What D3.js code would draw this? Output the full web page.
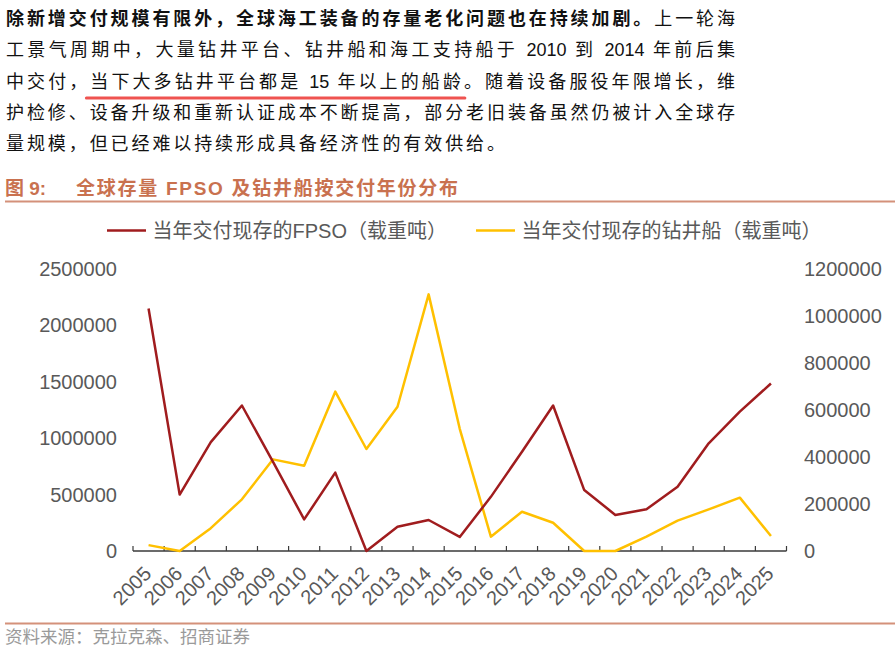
<!DOCTYPE html>
<html>
<head>
<meta charset="utf-8">
<script src="https://cdn.jsdelivr.net/npm/d3@7"></script>
<style>
    body { margin: 0; background: #fff; }
    svg { display: block; }
</style>
</head>
<body>
<div id="chart"></div>
<script>
// FPSO and drillship fleet by delivery year, dual axis, with the report
// paragraph and figure caption above it.

const YEARS = ['2005', '2006', '2007', '2008', '2009', '2010', '2011', '2012', '2013', '2014',
    '2015', '2016', '2017', '2018', '2019', '2020', '2021', '2022', '2023', '2024', '2025'];
const FPSO_DWT = [2150000, 500000, 965000, 1290000, 790000, 280000, 695000, 0, 215000, 275000,
    125000, 480000, 880000, 1290000, 540000, 320000, 370000, 570000, 955000, 1235000, 1485000];
const DRILLSHIP_DWT = [25000, 0, 97000, 220000, 390000, 363000, 678000, 434000, 614000, 1092000,
    520000, 61000, 167000, 120000, 0, 0, 61000, 129000, 177000, 227000, 64000];
const LEFT_TICKS = [0, 500000, 1000000, 1500000, 2000000, 2500000];
const RIGHT_TICKS = [0, 200000, 400000, 600000, 800000, 1000000, 1200000];
const SERIES_NAMES = ['当年交付现存的FPSO（载重吨）', '当年交付现存的钻井船（载重吨）'];

const PARAGRAPH = [
    [{ t: '除新增交付规模有限外，全球海工装备的存量老化问题也在持续加剧。', bold: true }, { t: '上一轮海' }],
    [{ t: '工景气周期中，大量钻井平台、钻井船和海工支持船于 2010 到 2014 年前后集' }],
    [{ t: '中交付，' }, { t: '当下大多钻井平台都是 15 年以上的船龄', mark: true }, { t: '。随着设备服役年限增长，维' }],
    [{ t: '护检修、设备升级和重新认证成本不断提高，部分老旧装备虽然仍被计入全球存' }],
    [{ t: '量规模，但已经难以持续形成具备经济性的有效供给。' }],
];
const CAPTION_NO = '图 9:';
const CAPTION = '全球存量 FPSO 及钻井船按交付年份分布';
const SOURCE = '资料来源：克拉克森、招商证券';

const W = 895, H = 652;
const FONT = '"Liberation Sans", Arial, "Noto Sans CJK SC", sans-serif';
const RED = '#a01c1e', GOLD = '#ffc000', ACCENT = '#c9714f', RULE = '#d4917a', GREY = '#595959';

const svg = d3.select('#chart').append('svg').attr('width', W).attr('height', H);

// ---- paragraph, justified to the text column like the source document.
// CJK characters and spaces take the extra spacing; digits stay tight.
const lineGap = 31.3, firstBase = 25, textLeft = 6, textRight = 735;
const isTight = /^[\x21-\x7F]+$/;
let lastSpacing = 0;
PARAGRAPH.forEach((parts, i) => {
    const baseY = firstBase + i * lineGap;
    const text = svg.append('text')
        .attr('x', textLeft).attr('y', baseY)
        .attr('font-family', FONT).attr('font-size', 18).attr('fill', '#111');
    const runs = [];
    parts.forEach((p) => {
        p.t.match(/[\x21-\x7F]+|[^\x21-\x7F]+/g).forEach((r) => {
            runs.push({ t: r, loose: !isTight.test(r), bold: p.bold, mark: p.mark });
        });
    });
    const spans = runs.map((r) => text.append('tspan').text(r.t).attr('font-weight', r.bold ? 700 : 400));
    const natural = text.node().getComputedTextLength();
    let looseCount = runs.filter((r) => r.loose).reduce((s, r) => s + r.t.length, 0);
    if (runs[runs.length - 1].loose) looseCount -= 1;
    const ls = i < PARAGRAPH.length - 1 ? (textRight - textLeft - natural) / looseCount : lastSpacing;
    lastSpacing = ls;
    spans.forEach((s, k) => { if (runs[k].loose) s.style('letter-spacing', `${ls}px`); });

    // red underline under the highlighted phrase
    let offset = 0, start = -1, end = -1;
    runs.forEach((r) => {
        if (r.mark) {
            if (start < 0) start = offset;
            end = offset + r.t.length - 1;
        }
        offset += r.t.length;
    });
    if (start >= 0) {
        const node = text.node();
        const x0 = node.getStartPositionOfChar(start).x - 4;
        const x1 = node.getStartPositionOfChar(end).x + 22;
        svg.append('line')
            .attr('x1', x0).attr('x2', x1)
            .attr('y1', baseY + 10.5).attr('y2', baseY + 10.5)
            .attr('stroke', '#ef5350').attr('stroke-width', 3).attr('stroke-linecap', 'round');
    }
});

// ---- caption
svg.append('text').attr('x', 5).attr('y', 195)
    .attr('font-family', FONT).attr('font-size', 19).attr('font-weight', 700)
    .attr('fill', ACCENT).text(CAPTION_NO);
svg.append('text').attr('x', 76).attr('y', 195)
    .attr('font-family', FONT).attr('font-size', 19).attr('font-weight', 700)
    .attr('fill', ACCENT).attr('textLength', 382).attr('lengthAdjust', 'spacing')
    .text(CAPTION);
svg.append('line').attr('x1', 5).attr('x2', W).attr('y1', 201.5).attr('y2', 201.5)
    .attr('stroke', RULE).attr('stroke-width', 2);

// ---- chart
const x = d3.scaleBand().domain(YEARS).range([133, 786.5]);
const yL = d3.scaleLinear().domain([0, 2500000]).range([551, 269]);
const yR = d3.scaleLinear().domain([0, 1200000]).range([551, 269]);
const cx = (d) => x(d) + x.bandwidth() / 2;

const styleAxis = (g) => {
    g.select('.domain').remove();
    g.selectAll('.tick line').remove();
    g.selectAll('text').attr('font-family', FONT).attr('font-size', 20).attr('fill', GREY);
};

svg.append('g').attr('transform', `translate(${x.range()[0]},0)`)
    .call(d3.axisLeft(yL).tickValues(LEFT_TICKS).tickFormat(d3.format('d')).tickSize(0).tickPadding(16))
    .call(styleAxis);
svg.append('g').attr('transform', `translate(${x.range()[1]},0)`)
    .call(d3.axisRight(yR).tickValues(RIGHT_TICKS).tickFormat(d3.format('d')).tickSize(0).tickPadding(17.5))
    .call(styleAxis);

// category axis: baseline with short ticks pointing up at band edges
const xAxis = svg.append('g');
const edges = YEARS.map((d) => x(d)).concat([x.range()[1]]);
xAxis.append('line')
    .attr('x1', x.range()[0]).attr('x2', x.range()[1])
    .attr('y1', yL(0)).attr('y2', yL(0))
    .attr('stroke', '#3a3a3a').attr('stroke-width', 1.5);
xAxis.selectAll('line.tk').data(edges).join('line').attr('class', 'tk')
    .attr('x1', (d) => d).attr('x2', (d) => d)
    .attr('y1', yL(0)).attr('y2', yL(0) - 5)
    .attr('stroke', '#3a3a3a').attr('stroke-width', 1.2);
xAxis.selectAll('text').data(YEARS).join('text')
    .attr('transform', (d) => `translate(${cx(d) + 4},${yL(0) + 24}) rotate(-45)`)
    .attr('text-anchor', 'end')
    .attr('font-family', FONT).attr('font-size', 20).attr('fill', GREY)
    .text((d) => d);

const lineL = d3.line().x((d, i) => cx(YEARS[i])).y((d) => yL(d));
const lineR = d3.line().x((d, i) => cx(YEARS[i])).y((d) => yR(d));

svg.append('path').datum(DRILLSHIP_DWT)
    .attr('fill', 'none').attr('stroke', GOLD).attr('stroke-width', 2.5)
    .attr('stroke-linejoin', 'round').attr('d', lineR);
svg.append('path').datum(FPSO_DWT)
    .attr('fill', 'none').attr('stroke', RED).attr('stroke-width', 2.5)
    .attr('stroke-linejoin', 'round').attr('d', lineL);

// legend
const legendItems = [
    { name: SERIES_NAMES[0], color: RED, x: 107 },
    { name: SERIES_NAMES[1], color: GOLD, x: 476 },
];
const legend = svg.selectAll('g.legend').data(legendItems).join('g').attr('class', 'legend')
    .attr('transform', (d) => `translate(${d.x},230.5)`);
legend.append('line').attr('x1', 0).attr('x2', 39).attr('stroke', (d) => d.color).attr('stroke-width', 2.5);
legend.append('text').attr('x', 45.5).attr('dy', '0.35em')
    .attr('font-family', FONT).attr('font-size', 20).attr('fill', GREY)
    .text((d) => d.name);

// ---- source
svg.append('line').attr('x1', 5).attr('x2', W).attr('y1', 623.5).attr('y2', 623.5)
    .attr('stroke', RULE).attr('stroke-width', 2);
svg.append('text').attr('x', 5).attr('y', 643)
    .attr('font-family', FONT).attr('font-size', 17.5).attr('fill', '#9a9a9a')
    .text(SOURCE);
</script>
</body>
</html>
